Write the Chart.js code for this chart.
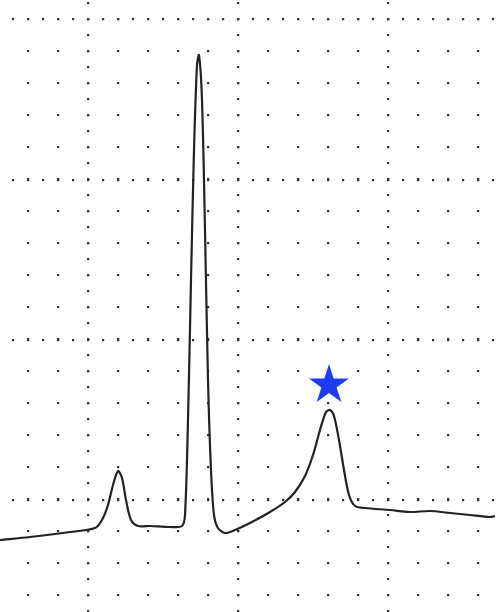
<!DOCTYPE html>
<html><head><meta charset="utf-8">
<script src="https://cdn.jsdelivr.net/npm/chart.js@4"></script>
<style>html,body{margin:0;padding:0;background:#fff}#wrap{width:501px;height:612px}</style>
</head><body><div id="wrap"><canvas id="ecg"></canvas></div>
<script>
// trace, in pixel-like units (y grows downward)
var traceX = [0, 30, 70, 95, 102, 108, 113, 118, 122, 126, 131, 138, 150, 170, 182, 185, 188, 191, 194, 197, 199, 202, 205, 208, 211, 214, 218, 225, 235, 250, 270, 285, 295, 305, 313, 320, 326, 330, 334, 339, 344, 349, 355, 365, 390, 410, 430, 450, 470, 490, 495];
var traceY = [540, 537, 532, 528, 520, 505, 485, 471, 478, 500, 520, 526, 526, 527, 526, 515, 420, 280, 150, 65, 55, 100, 230, 380, 470, 515, 528, 533, 530, 523, 512, 502, 492, 476, 455, 430, 412, 410, 416, 440, 470, 495, 506, 508, 510, 512, 511, 513, 515, 517, 516];
var starX = [329];
var starY = [384];
// dotted paper grid
var minorStepX = 30, minorStepY = 32;
var majorCols = [88, 238, 388];
var majorRows = [19, 180, 340, 500];

var star = document.createElement('canvas');
star.width = 44; star.height = 44;
(function () {
  var c = star.getContext('2d');
  c.fillStyle = '#1f3cf2';
  c.beginPath();
  for (var i = 0; i < 10; i++) {
    var r = i % 2 ? 8 : 21;
    var a = -Math.PI / 2 + i * Math.PI / 5;
    c.lineTo(22 + r * Math.cos(a), 23 + r * Math.sin(a));
  }
  c.closePath(); c.fill();
})();

var gridDots = {
  id: 'gridDots',
  beforeDatasetsDraw: function (chart) {
    var ctx = chart.ctx, xs = chart.scales.x, ys = chart.scales.y;
    ctx.save();
    ctx.fillStyle = '#333';
    function dot(x, y) { ctx.fillRect(xs.getPixelForValue(x) - 1, ys.getPixelForValue(y) - 1, 2.2, 2.2); }
    for (var x = -2; x <= 501; x += minorStepX)
      for (var y = 19; y <= 612; y += minorStepY) dot(x, y);
    majorCols.forEach(function (cx) { for (var y = 3; y <= 612; y += minorStepY / 2) dot(cx, y); });
    majorRows.forEach(function (ry) { for (var x = -2; x <= 501; x += minorStepX / 2) dot(x, ry); });
    ctx.restore();
  }
};

new Chart(document.getElementById('ecg'), {
  type: 'scatter',
  data: {
    datasets: [
      {
        data: traceX.map(function (x, i) { return { x: x, y: traceY[i] }; }),
        showLine: true, borderColor: '#222', borderWidth: 2.2, pointRadius: 0, tension: 0.3
      },
      {
        data: starX.map(function (x, i) { return { x: x, y: starY[i] }; }),
        pointStyle: star, pointRadius: 22
      }
    ]
  },
  options: {
    animation: false, responsive: true, maintainAspectRatio: false,
    layout: { padding: 0, autoPadding: false },
    plugins: { legend: { display: false }, tooltip: { enabled: false } },
    scales: {
      x: { type: 'linear', min: 0, max: 501, display: false },
      y: { type: 'linear', min: 0, max: 612, reverse: true, display: false }
    }
  },
  plugins: [gridDots]
});
</script></body></html>
